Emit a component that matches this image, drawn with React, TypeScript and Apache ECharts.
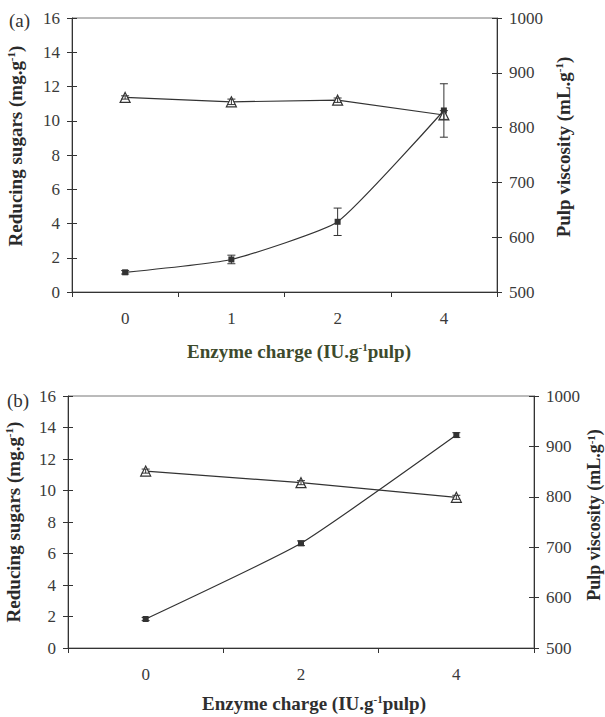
import React, { useEffect, useRef } from "react";
import * as echarts from "echarts";

// Panel (a): enzyme charges 0, 1, 2, 4 IU/g pulp
const chargesA = ["0", "1", "2", "4"];
const sugarsA = [1.15, 1.9, 4.1, 10.6];
const sugarsErrA = [0.1, 0.25, 0.8, 1.56];
const viscosityA = [855, 847, 850, 823];
const viscosityErrA = [3, 5, 4, 8];

// Panel (b): enzyme charges 0, 2, 4 IU/g pulp
const chargesB = ["0", "2", "4"];
const sugarsB = [1.84, 6.65, 13.52];
const sugarsErrB = [0.1, 0.15, 0.15];
const viscosityB = [851, 828, 799];
const viscosityErrB = [4, 4, 4];

const sugarTicks = { min: 0, max: 16, interval: 2 };
const viscosityTicks = { min: 500, max: 1000, interval: 100 };

const FONT = "'Liberation Serif', 'Times New Roman', serif";
const INK = "#333";

const errorSeries = (
  xAxisIndex: number,
  yAxisIndex: number,
  values: number[],
  errs: number[]
) => ({
  type: "custom",
  xAxisIndex,
  yAxisIndex,
  z: 5,
  silent: true,
  data: values.map((v, i) => [i, v, errs[i]]),
  encode: { x: 0, y: 1 },
  renderItem: (_params: any, api: any) => {
    const i = api.value(0);
    const v = api.value(1);
    const e = api.value(2);
    const hi = api.coord([i, v + e]);
    const lo = api.coord([i, v - e]);
    const w = 4;
    const style = { stroke: INK, lineWidth: 1 };
    return {
      type: "group",
      children: [
        { type: "line", shape: { x1: hi[0], y1: hi[1], x2: lo[0], y2: lo[1] }, style },
        { type: "line", shape: { x1: hi[0] - w, y1: hi[1], x2: hi[0] + w, y2: hi[1] }, style },
        { type: "line", shape: { x1: lo[0] - w, y1: lo[1], x2: lo[0] + w, y2: lo[1] }, style },
      ],
    };
  },
});

const tickLabel = { fontFamily: FONT, fontSize: 17, color: "#3a3a3a" };

const makeX = (gridIndex: number, data: string[], inside: boolean) => ({
  type: "category",
  gridIndex,
  data,
  boundaryGap: true,
  axisLine: { show: !inside, lineStyle: { color: INK, width: 1 } },
  axisTick: { show: true, inside, length: 5, lineStyle: { color: INK } },
  axisLabel: inside ? { show: false } : { ...tickLabel, margin: 18 },
  splitLine: { show: false },
});

const makeY = (
  gridIndex: number,
  position: "left" | "right",
  ticks: { min: number; max: number; interval: number },
  inside: boolean
) => ({
  type: "value",
  gridIndex,
  position,
  ...ticks,
  axisLine: { show: !inside, lineStyle: { color: INK, width: 1 } },
  axisTick: { show: true, inside, length: 5, lineStyle: { color: INK } },
  axisLabel: inside
    ? { show: false }
    : { ...tickLabel, margin: 12, formatter: (v: number) => String(v) },
  splitLine: { show: false },
});

const sugarLine = (xAxisIndex: number, yAxisIndex: number, data: number[]) => ({
  type: "line",
  xAxisIndex,
  yAxisIndex,
  data,
  smooth: 0.15,
  symbol: "rect",
  symbolSize: 6,
  lineStyle: { color: INK, width: 1.2 },
  itemStyle: { color: INK },
  z: 3,
});

const viscosityLine = (xAxisIndex: number, yAxisIndex: number, data: number[]) => ({
  type: "line",
  xAxisIndex,
  yAxisIndex,
  data,
  symbol: "triangle",
  symbolSize: 10,
  lineStyle: { color: INK, width: 1.2 },
  itemStyle: { color: "#fff", borderColor: INK, borderWidth: 1.2 },
  z: 4,
});

const supRich = (size: number, color: string) => ({
  sup: { fontFamily: FONT, fontSize: Math.round(size * 0.6), fontWeight: "bold", fill: color, verticalAlign: "top" },
});

const title = (
  x: number,
  y: number,
  rotated: boolean,
  before: string,
  after: string,
  color: string,
  size = 19
) => ({
  type: "text",
  x,
  y,
  rotation: rotated ? Math.PI / 2 : 0,
  style: {
    text: `${before}{sup|-1}${after}`,
    font: `bold ${size}px ${FONT}`,
    fill: color,
    align: "center",
    verticalAlign: "middle",
    rich: supRich(size, color),
  },
});

export default function App() {
  const ref = useRef<HTMLDivElement>(null);

  useEffect(() => {
    if (!ref.current) return;
    const chart = echarts.init(ref.current, null, { renderer: "svg" });
    chart.setOption({
      animation: false,
      backgroundColor: "#fff",
      grid: [
        { left: 72, top: 18, width: 425, height: 274, show: true, borderColor: "#777", borderWidth: 1 },
        { left: 68, top: 396, width: 466, height: 252, show: true, borderColor: "#777", borderWidth: 1 },
      ],
      xAxis: [
        makeX(0, chargesA, false),
        makeX(1, chargesB, false),
        makeX(0, chargesA, true),
        makeX(1, chargesB, true),
      ],
      yAxis: [
        makeY(0, "left", sugarTicks, false),
        makeY(0, "right", viscosityTicks, false),
        makeY(1, "left", sugarTicks, false),
        makeY(1, "right", viscosityTicks, false),
        makeY(0, "left", sugarTicks, true),
        makeY(0, "right", viscosityTicks, true),
        makeY(1, "left", sugarTicks, true),
        makeY(1, "right", viscosityTicks, true),
      ],
      series: [
        sugarLine(0, 0, sugarsA),
        viscosityLine(0, 1, viscosityA),
        errorSeries(0, 0, sugarsA, sugarsErrA),
        errorSeries(0, 1, viscosityA, viscosityErrA),
        sugarLine(1, 2, sugarsB),
        viscosityLine(1, 3, viscosityB),
        errorSeries(1, 2, sugarsB, sugarsErrB),
        errorSeries(1, 3, viscosityB, viscosityErrB),
      ],
      graphic: [
        { type: "text", x: 9, y: 20, style: { text: "(a)", font: `19px ${FONT}`, fill: "#333", verticalAlign: "middle" } },
        { type: "text", x: 7, y: 400, style: { text: "(b)", font: `19px ${FONT}`, fill: "#333", verticalAlign: "middle" } },
        title(15, 146, true, "Reducing sugars (mg.g", ")", "#2a2a2a"),
        title(563, 147, true, "Pulp viscosity (mL.g", ")", "#2a2a2a"),
        title(299, 351, false, "Enzyme charge (IU.g", "pulp)", "#3d4a2c"),
        title(13, 522, true, "Reducing sugars (mg.g", ")", "#2a2a2a"),
        title(594, 515, true, "Pulp viscosity (mL.g", ")", "#2a2a2a", 18),
        title(314, 703, false, "Enzyme charge (IU.g", "pulp)", "#2f2f2f"),
      ],
    });
    return () => chart.dispose();
  }, []);

  return (
    <div
      ref={ref}
      style={{ position: "fixed", left: 0, top: 0, width: 605, height: 717, background: "#fff" }}
    />
  );
}
